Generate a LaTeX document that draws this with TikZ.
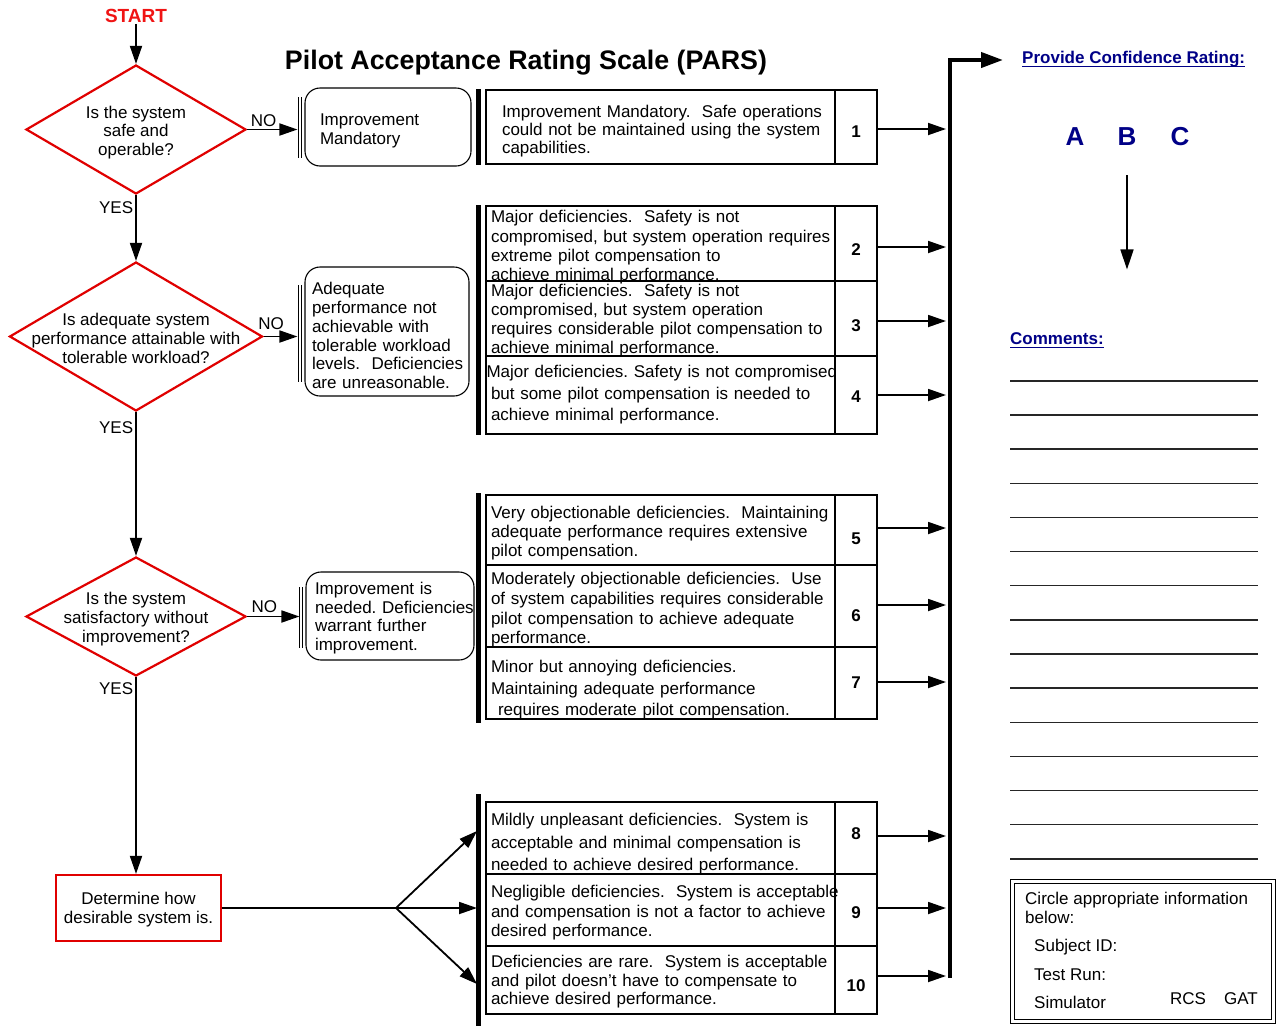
\documentclass[tikz,border=0pt]{standalone}
\usepackage{fontspec}
\setmainfont{Liberation Sans}
\usetikzlibrary{arrows.meta,shapes.geometric,calc}
\definecolor{pred}{RGB}{224,0,0}
\definecolor{pstart}{RGB}{240,20,20}
\definecolor{pnavy}{RGB}{0,0,135}
\newcommand\pfs[2]{\fontsize{#1}{#2}\selectfont}
\newcommand\rl[1]{\mbox{#1}}
% invisible strut that pushes a text block down by #1 pt inside its centred box
\newcommand\sh[1]{\rule{0pt}{\dimexpr 12.4pt+#1pt+#1pt\relax}}
\newcommand\su[1]{\rule[-#1pt]{0pt}{#1pt}}
\frenchspacing
\begin{document}
\begin{tikzpicture}[x=1pt,y=-1pt,
  txt/.style={font=\pfs{17}{19}, inner sep=0pt},
  dia/.style={diamond, draw=pred, line width=2.2pt, inner sep=0pt},
  dtxt/.style={align=center, font=\pfs{17}{18.5}, inner sep=0pt},
  rbx/.style={draw, rounded corners=15pt, line width=1.1pt, align=left, inner ysep=0pt},
  rate/.style={draw, line width=1.1pt, minimum width=349pt, inner sep=0pt},
  rtx/.style={align=left, text width=339pt, inner sep=0pt},
  num/.style={draw, line width=1.1pt, minimum width=42pt, inner sep=0pt, font=\bfseries\pfs{17}{19}},
  arr/.style={-{Triangle[length=18pt,width=12pt]}, line width=1.8pt},
  bar/.style={line width=5pt},
  brk/.style={line width=0.8pt},
  lbl/.style={font=\pfs{17}{19}},
  cline/.style={line width=1.4pt, draw=black!85},
  hdr/.style={font=\bfseries\pfs{17}{19}, text=pnavy, inner xsep=0pt},
  uline/.style={draw=pnavy, line width=1.2pt}]
\fill[white] (0,0) rectangle (1278,1026);
\useasboundingbox (0,0) rectangle (1278,1026);

% title
\node[font=\bfseries\pfs{26.8}{30}] (title) at (526,63) {Pilot Acceptance Rating Scale (PARS)};

% left flow
\node[font=\bfseries\pfs{19}{21}, text=pstart, inner sep=1pt] (st) at (136,16) {START};
\node[dia, minimum width=220pt, minimum height=129pt] (d1) at (136,129.5) {};
\node[dtxt, font=\pfs{17}{18.3}] (t1) at ([yshift=-3pt]d1.center) {Is the system\\safe and\\operable?};
\node[dia, minimum width=253pt, minimum height=149pt] (d2) at (136,336.5) {};
\node[dtxt, font=\pfs{17}{19}] (t2) at ([yshift=-1.5pt]d2.center) {Is adequate system\\performance attainable with\\tolerable workload?};
\node[dia, minimum width=220pt, minimum height=119pt] (d3) at (136,616.5) {};
\node[dtxt, font=\pfs{17}{19}] (t3) at ([yshift=-2.5pt]d3.center) {Is the system\\satisfactory without\\improvement?};
\node[draw=pred, line width=2.2pt, minimum width=165pt, minimum height=66pt, align=center, font=\pfs{17}{19}] (det) at (138.5,908) {\sh{2}Determine how\\desirable system is.};

\draw[arr] (st.south) -- (d1.north);
\draw[arr] (d1.south) -- node[lbl, left, pos=0.19, inner sep=2pt] (y1) {YES} (d2.north);
\draw[arr] (d2.south) -- node[lbl, left, pos=0.11, inner sep=2pt] (y2) {YES} (d3.north);
\draw[arr] (d3.south) -- node[lbl, left, pos=0.06, inner sep=2pt] (y3) {YES} (d3.south |- det.north);

% rounded outcome boxes
\node[rbx, text width=136pt, inner xsep=15pt, minimum height=78pt, font=\pfs{17}{19}] (m1) at (388,127) {\sh{4}Improvement\\Mandatory};
\node[rbx, text width=150pt, inner xsep=7pt, minimum height=129pt, font=\pfs{17}{18.8}] (m2) at (387,331.5) {\sh{4}Adequate\\performance not\\achievable with\\tolerable workload\\\rl{levels.\ \ Deficiencies}\\are unreasonable.};
\node[rbx, text width=150pt, inner xsep=9pt, minimum height=88pt, font=\pfs{17}{18.7}] (m3) at (390,616) {\sh{2}Improvement is\\\rl{needed. Deficiencies}\\warrant further\\improvement.};

\draw[brk] (298.5,97) -- (298.5,158);
\draw[brk] (301.5,97) -- (301.5,158);
\draw[brk] (298.5,285) -- (298.5,382);
\draw[brk] (301.5,285) -- (301.5,382);
\draw[brk] (299.5,587) -- (299.5,648);
\draw[brk] (302.5,587) -- (302.5,648);

\draw[arr] (d1.east) -- node[lbl, above, pos=0.33, inner sep=2pt] (no1) {NO} ($(d1.east -| m1.west)+(-7,0)$);
\draw[arr] (d2.east) -- node[lbl, above, pos=0.22, inner sep=5.5pt] (no2) {NO} ($(d2.east -| m2.west)+(-7,0)$);
\draw[arr] (d3.east) -- node[lbl, above, pos=0.33, inner sep=3pt] (no3) {NO} ($(d3.east -| m3.west)+(-6,0)$);

% rating rows: box, text, number
\node[rate, minimum height=74pt] (r1) at (660.5,127) {};
\node[rtx, text width=317pt, font=\pfs{17}{18}] (x1) at ([yshift=-4pt]r1.center) {\rl{Improvement Mandatory.\ \ Safe operations}\\\rl{could not be maintained using the system}\\\rl{capabilities.}};
\node[num, minimum height=74pt] (n1) at (856,127) {\sh{4}1};

\node[rate, minimum height=75pt] (r2) at (660.5,243.5) {};
\node[rtx, font=\pfs{17}{19.3}] (x2) at ([yshift=-4pt]r2.center) {\rl{Major deficiencies.\ \ Safety is not}\\\rl{compromised, but system operation requires}\\\rl{extreme pilot compensation to}\\\rl{achieve minimal performance.}};
\node[num, minimum height=75pt] (n2) at (856,243.5) {\sh{5.5}2};

\node[rate, minimum height=75pt] (r3) at (660.5,318.5) {};
\node[rtx, font=\pfs{17}{19}] (x3) at ([yshift=-2pt]r3.center) {\rl{Major deficiencies.\ \ Safety is not}\\\rl{compromised, but system operation}\\\rl{requires considerable pilot compensation to}\\\rl{achieve minimal performance.}};
\node[num, minimum height=75pt] (n3) at (856,318.5) {\sh{6.5}3};

\node[rate, minimum height=78pt] (r4) at (660.5,395) {};
\node[rtx, font=\pfs{17}{21.5}] (x4) at (r4.center) {\rl{\hspace*{-4.5pt}Major deficiencies. Safety is not compromised}\\\rl{but some pilot compensation is needed to}\\\rl{achieve minimal performance.}};
\node[num, minimum height=78pt] (n4) at (856,395) {\sh{1}4};

\node[rate, minimum height=70pt] (r5) at (660.5,530) {};
\node[rtx, font=\pfs{17}{19}] (x5) at ([yshift=-3pt]r5.center) {\rl{Very objectionable deficiencies.\ \ Maintaining}\\\rl{adequate performance requires extensive}\\\rl{pilot compensation.}};
\node[num, minimum height=70pt] (n5) at (856,530) {\sh{8}5};

\node[rate, minimum height=82pt] (r6) at (660.5,606) {};
\node[rtx, font=\pfs{17}{19.7}] (x6) at ([yshift=-4pt]r6.center) {\rl{Moderately objectionable deficiencies.\ \ Use}\\\rl{of system capabilities requires considerable}\\\rl{pilot compensation to achieve adequate}\\\rl{performance.}};
\node[num, minimum height=82pt] (n6) at (856,606) {\sh{9}6};

\node[rate, minimum height=72pt] (r7) at (660.5,683) {};
\node[rtx, font=\pfs{17}{21.5}] (x7) at ([yshift=-7pt]r7.center) {\rl{Minor but annoying deficiencies.}\\\rl{Maintaining adequate performance}\\\rl{\hspace*{7pt}requires moderate pilot compensation.}};
\node[num, minimum height=72pt] (n7) at (856,683) {7};

\node[rate, minimum height=72pt] (r8) at (660.5,838) {};
\node[rtx, font=\pfs{17}{22.5}] (x8) at ([yshift=-6pt]r8.center) {\rl{Mildly unpleasant deficiencies.\ \ System is}\\\rl{acceptable and minimal compensation is}\\\rl{needed to achieve desired performance.}};
\node[num, minimum height=72pt] (n8) at (856,838) {\su{8}8};

\node[rate, minimum height=72pt] (r9) at (660.5,910) {};
\node[rtx, font=\pfs{17}{19.5}] (x9) at ([yshift=-3pt]r9.center) {\rl{Negligible deficiencies.\ \ System is acceptable}\\\rl{and compensation is not a factor to achieve}\\\rl{desired performance.}};
\node[num, minimum height=72pt] (n9) at (856,910) {\sh{2}9};

\node[rate, minimum height=68pt] (r10) at (660.5,980) {};
\node[rtx, font=\pfs{17}{18.5}] (x10) at ([yshift=-2pt]r10.center) {\rl{Deficiencies are rare.\ \ System is acceptable}\\\rl{and pilot doesn’t have to compensate to}\\\rl{achieve desired performance.}};
\node[num, minimum height=68pt] (n10) at (856,980) {\sh{5}10};

% thick bars
\draw[bar] ([xshift=-6.5pt]r1.north west) -- ([xshift=-6.5pt]r1.south west);
\draw[bar] ([xshift=-6.5pt]r2.north west) -- ([xshift=-6.5pt]r4.south west);
\draw[bar] ([xshift=-6.5pt,yshift=1pt]r5.north west) -- ([xshift=-6.5pt,yshift=-3pt]r7.south west);
\draw[bar] ([xshift=-6.5pt,yshift=7pt]r8.north west) -- ([xshift=-6.5pt,yshift=-12pt]r10.south west);

% fork from determine box
\coordinate (fk) at (396,908);
\coordinate (f8) at (477,831);
\coordinate (f9) at (477,908);
\coordinate (f10) at (477,984);
\draw[line width=1.8pt] (det.east) -- (fk);
\draw[arr] (fk) -- (f8);
\draw[arr] (fk) -- (f9);
\draw[arr] (fk) -- (f10);

% collector
\coordinate (bx) at (946,0);
\foreach \k/\s in {1/2,2/3.5,3/2.5,4/0,5/-2,6/-1,7/-1,8/-2,9/-2,10/-4}
  {\draw[arr] ([yshift=-\s pt]n\k.east) -- ([yshift=-\s pt]n\k.east -| bx);}
\coordinate (cb) at (950,978);
\coordinate (ct) at (950,60);
\coordinate (ce) at (1003,60);
\draw[line width=4pt, -{Triangle[length=22pt,width=15pt]}] (cb) -- (ct) -- (ce);

% right column
\node[hdr, anchor=west] (pcr) at (1022,59) {Provide Confidence Rating:};
\draw[uline] ([yshift=-3pt]pcr.base west) -- ([yshift=-3pt]pcr.base east);
\node[font=\bfseries\pfs{26}{28}, text=pnavy] (ra) at (1075,137) {A};
\node[font=\bfseries\pfs{26}{28}, text=pnavy] (rb) at (1127,137) {B};
\node[font=\bfseries\pfs{26}{28}, text=pnavy] (rc) at (1180,137) {C};
\draw[-{Triangle[length=20pt,width=13pt]}, line width=1.6pt] ($(rb.south)+(0,26)$) -- ($(rb.south)+(0,120)$);

\node[hdr, anchor=west] (cm) at (1010,339) {Comments:};
\draw[uline] ([yshift=-3pt]cm.base west) -- ([yshift=-3pt]cm.base east);
\foreach \i in {0,...,14} {\draw[cline] (1010,{380.8+34.15*\i}) -- (1258,{380.8+34.15*\i});}

\node[draw, double, double distance=2.6pt, line width=1.3pt, minimum width=261pt, minimum height=140pt, inner sep=0pt] (cbox) at (1143,951.5) {};
\node[txt, anchor=west, align=left] (ci) at (1025,908) {Circle appropriate information\\below:};
\node[txt, anchor=west] (sid) at (1034,947) {Subject ID:};
\node[txt, anchor=west] (trn) at (1034,975) {Test Run:};
\node[txt, anchor=west] (sim) at (1034,1002) {Simulator};
\node[txt] (rcs) at (1188,999) {RCS};
\node[txt] (gat) at (1241,999) {GAT};
\end{tikzpicture}
\end{document}
